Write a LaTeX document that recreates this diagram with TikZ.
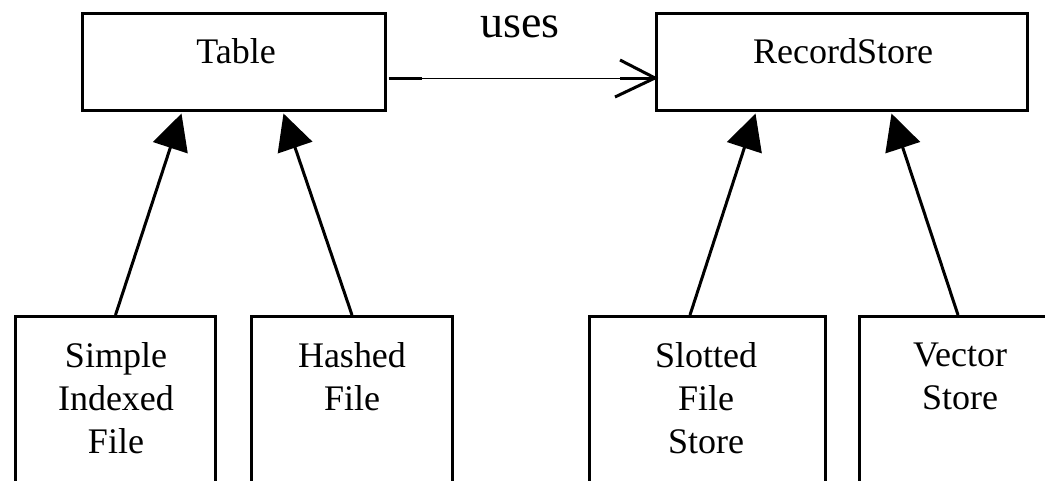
\documentclass[tikz,border=0pt]{standalone}
\usepackage{fontspec}
\setmainfont{Liberation Serif}
\usetikzlibrary{arrows.meta,calc}
\begin{document}
\begin{tikzpicture}[x=1pt,y=-1pt,
  box/.style={draw,line width=3pt,inner sep=0pt,minimum height=#1},
  box/.default=97pt,
  classname/.style={font=\fontsize{36}{43}\selectfont,inner sep=0pt,anchor=base},
  subname/.style={font=\fontsize{36}{43}\selectfont,align=center,inner sep=0pt,anchor=north},
  assoc/.style={font=\fontsize{46}{50}\selectfont,inner sep=0pt,anchor=base},
  inherit/.style={line width=3pt,-{Triangle[length=36pt,width=36pt]}},
  thick stub/.style={line width=3pt},
  thin link/.style={line width=1pt},
]
\fill[white] (0,0) rectangle (1045,480);
\clip (0,0) rectangle (1045,480);

% abstract classes
\node[box, minimum width=303pt] (table) at (234,62) {};
\node[box, minimum width=371pt] (rs) at (842,62) {};
\node[classname] (tablelbl) at (236,63) {Table};
\node[classname] (rslbl) at (843,63) {RecordStore};

% implementations (running off the lower edge)
\node[box=213.5pt, minimum width=200pt] (simple) at (115.5,423.25) {};
\node[box=213.5pt, minimum width=201pt] (hashed) at (352,423.25) {};
\node[box=213.5pt, minimum width=236pt] (slotted) at (707.5,423.25) {};
\node[box=213.5pt, minimum width=201pt] (vector) at (960,423.25) {};
\node[subname] (simplelbl) at (116,342.4) {Simple\\Indexed\\File};
\node[subname] (hashedlbl) at (352,342.4) {Hashed\\File};
\node[subname] (slottedlbl) at (706,342.4) {Slotted\\File\\Store};
\node[subname] (vectorlbl) at (960,343.2) {Vector\\Store};

% generalisation arrows
\draw[inherit] (simple.north) -- ($(table.south west)+(100.5,1.5)$);
\draw[inherit] (hashed.north) -- ($(table.south west)+(202.5,1.5)$);
\draw[inherit] ($(slotted.north)+(-17.5,0)$) -- ($(rs.south west)+(100.5,1.5)$);
\draw[inherit] ($(vector.north)+(-2,0)$) -- ($(rs.south west)+(236.5,1.5)$);

% "uses" association with open arrowhead
\coordinate (usesfrom) at ($(table.east)+(1.5,16)$);
\coordinate (usesto) at ($(rs.west)+(0,16)$);
\draw[thin link] (usesfrom) -- (usesto);
\draw[thick stub] (usesfrom) -- ++(33,0);
\draw[thick stub] ($(usesto)+(-35,0)$) -- (usesto);
\draw[thick stub, line join=miter] ($(usesto)+(-35,-18)$) -- (usesto) -- ($(usesto)+(-40,19)$);
\node[assoc] (useslbl) at (520,37) {uses};
\end{tikzpicture}
\end{document}
